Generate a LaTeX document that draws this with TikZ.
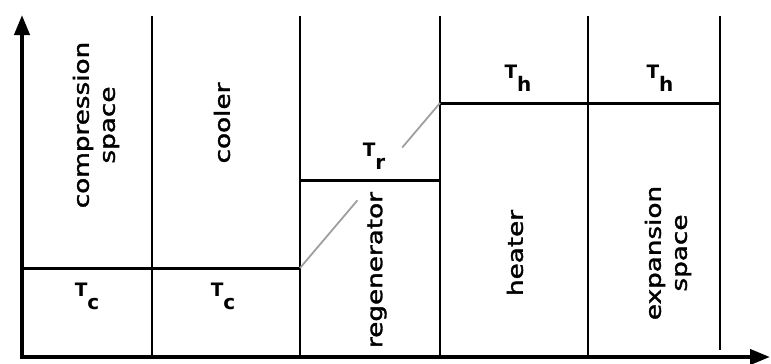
\documentclass[tikz,border=0pt]{standalone}
\usepackage{fontspec}
\setmainfont{DejaVu Sans}
\newfontfamily\zonefont[FakeBold=1.5]{DejaVu Sans}
\usetikzlibrary{arrows.meta,calc}
\newcommand{\tempsub}[1]{{\fontsize{18.5}{22}\selectfont\bfseries T}\raisebox{-13pt}{\fontsize{20}{24}\selectfont\bfseries #1}}

\begin{document}
\begin{tikzpicture}[x=1pt,y=-1pt,
    axisline/.style={line width=4pt,line cap=rect,-{Triangle[length=20pt,width=15pt]}},
    divider/.style={line width=1.3pt},
    templevel/.style={line width=3pt},
    slope/.style={line width=1.8pt,gray!75},
    zone/.style={rotate=90,xscale=1.25,align=center,font=\zonefont\fontsize{21}{26}\selectfont},
    templabel/.style={inner sep=0pt}]
  \useasboundingbox (0,0) rectangle (771,364);
  % Axes
  \coordinate (origin) at (22,357);
  \draw[axisline] (origin) -- (22,15);
  \draw[axisline] (origin) -- (770,357);
  % Dividers between the spaces
  \foreach \x in {152,300,440,588}
    \draw[divider] (\x,16) -- (\x,357);
  \draw[divider] (720,16) -- (720,350);
  % Temperature levels
  \coordinate (cold) at (300,268);
  \coordinate (hot) at (440,103);
  \draw[templevel] (22,268) -- (cold);
  \draw[templevel] (300,180) -- (440,180);
  \draw[templevel] (hot) -- (720,103);
  \draw[slope] (cold) -- ($(cold)!0.41!(hot)$);
  \draw[slope] ($(cold)!0.73!(hot)$) -- (hot);
  % Names of the spaces
  \node[zone] (compression) at (96,125) {compression\\space};
  \node[zone] (cooler) at (222,123) {cooler};
  \node[zone] (regenerator) at (377,270) {regenerator};
  \node[zone] (heater) at (515,253) {heater};
  \node[zone] (expansion) at (668,253) {expansion\\space};
  % Temperatures
  \node[templabel] (tc1) at (87,296) {\tempsub{c}};
  \node[templabel] (tc2) at (223,296) {\tempsub{c}};
  \node[templabel] (tr) at (374,156) {\tempsub{r}};
  \node[templabel] (th1) at (518,78) {\tempsub{h}};
  \node[templabel] (th2) at (660,78) {\tempsub{h}};
\end{tikzpicture}
\end{document}
